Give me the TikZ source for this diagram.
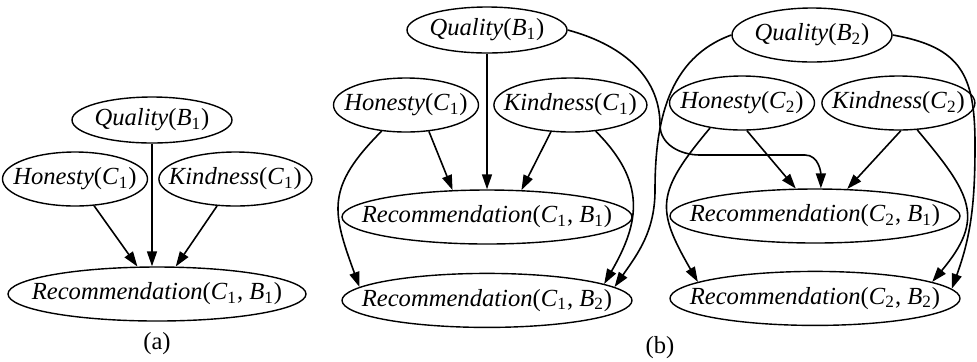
\documentclass[tikz,border=0pt]{standalone}
\usepackage{fontspec}
\setmainfont{Liberation Serif}
\usepackage{tikz}
\usetikzlibrary{shapes.geometric, arrows.meta, positioning}
\newcommand{\vsub}[2]{\textit{#1}\textsubscript{#2}}
\tikzstyle{rvnode} = [ellipse, draw, line width=0.7pt, inner xsep=-14pt, inner ysep=0pt, font=\fontsize{12.3}{14}\selectfont]
\tikzstyle{quality} = [rvnode, minimum width=80pt, minimum height=23pt]
\tikzstyle{honest} = [rvnode, minimum width=72.5pt, minimum height=27pt]
\tikzstyle{kind} = [rvnode, minimum width=76.5pt, minimum height=27pt]
\tikzstyle{recommend} = [rvnode, minimum width=145pt, minimum height=27pt]
\tikzstyle{caption} = [font=\fontsize{12.3}{14}\selectfont]
\tikzstyle{arrow} = [-{Triangle[length=7.5pt, width=5pt]}, line width=0.8pt]

\begin{document}
\begin{tikzpicture}[x=0.5pt, y=0.5pt]
\useasboundingbox (0,0) rectangle (977,-361);

% (a): one customer, one book
\node[quality] (qa) at (152,-120) {\textit{Quality}(\vsub{B}{1})};
\node[honest] (ha) at (75,-179) {\textit{Honesty}(\vsub{C}{1})};
\node[kind, right=5pt of ha] (ka) {\textit{Kindness}(\vsub{C}{1})};
\node[recommend, minimum width=149pt] (ra) at (157,-294) {\textit{Recommendation}(\vsub{C}{1}, \vsub{B}{1})};
\node[caption] (capa) at (157,-344) {(a)};

% (b): two customers, two books
\node[quality] (qb1) at (487,-30) {\textit{Quality}(\vsub{B}{1})};
\node[honest] (hb1) at (406,-105) {\textit{Honesty}(\vsub{C}{1})};
\node[kind, right=7pt of hb1] (kb1) {\textit{Kindness}(\vsub{C}{1})};
\node[recommend] (r11) at (487,-217) {\textit{Recommendation}(\vsub{C}{1}, \vsub{B}{1})};
\node[recommend, below=14pt of r11] (r12) {\textit{Recommendation}(\vsub{C}{1}, \vsub{B}{2})};

\node[quality, minimum height=27pt] (qb2) at (812,-35) {\textit{Quality}(\vsub{B}{2})};
\node[honest] (hb2) at (742,-103) {\textit{Honesty}(\vsub{C}{2})};
\node[kind, right=3pt of hb2] (kb2) {\textit{Kindness}(\vsub{C}{2})};
\node[recommend] (r21) at (815,-216) {\textit{Recommendation}(\vsub{C}{2}, \vsub{B}{1})};
\node[recommend, below=13.5pt of r21] (r22) {\textit{Recommendation}(\vsub{C}{2}, \vsub{B}{2})};
\node[caption] (capb) at (660,-348) {(b)};

% bends of the long edges
\coordinate (qone-turn) at (660,-125);
\coordinate (qone-run) at (700,-155);
\coordinate (qone-drop) at (805,-155);
\coordinate (qtwo-turn) at (655,-190);
\coordinate (qtwo-side) at (975,-145);

% (a) edges
\draw[arrow] (qa) -- (qa |- ra.north);
\draw[arrow] (ha) -- (ra);
\draw[arrow] (ka) -- (ra);

% (b) edges into Recommendation(C1, .)
\draw[arrow] (qb1) -- (qb1 |- r11.north);
\draw[arrow] (hb1.-49) -- (r11.142);
\draw[arrow] (kb1.-126) -- (r11.38);
\draw[arrow] (hb1.-133) to[out=-135, in=110, looseness=1.3] (r12.174);
\draw[arrow] (kb1.-46) to[out=-45, in=60, looseness=1.2] (r12.8);
\draw[arrow] (qb2.west) to[out=200, in=90] (qtwo-turn) to[out=-90, in=55] (r12.6);

% (b) edges into Recommendation(C2, .)
\draw[arrow] (qb1.east) to[out=-15, in=90] (qone-turn) to[out=-90, in=180] (qone-run) -- (qone-drop) to[out=0, in=90] (r21.78);
\draw[arrow] (hb2.-80) -- (r21.125);
\draw[arrow] (kb2.-85) -- (r21.40);
\draw[arrow] (hb2.-142) to[out=-130, in=120, looseness=1.4] (r22.172);
\draw[arrow] (kb2.-55) to[out=-50, in=50, looseness=1.4] (r22.8);
\draw[arrow] (qb2.east) to[out=-10, in=90, looseness=1.3] (qtwo-side) to[out=-90, in=70] (r22.4);

\end{tikzpicture}
\end{document}
